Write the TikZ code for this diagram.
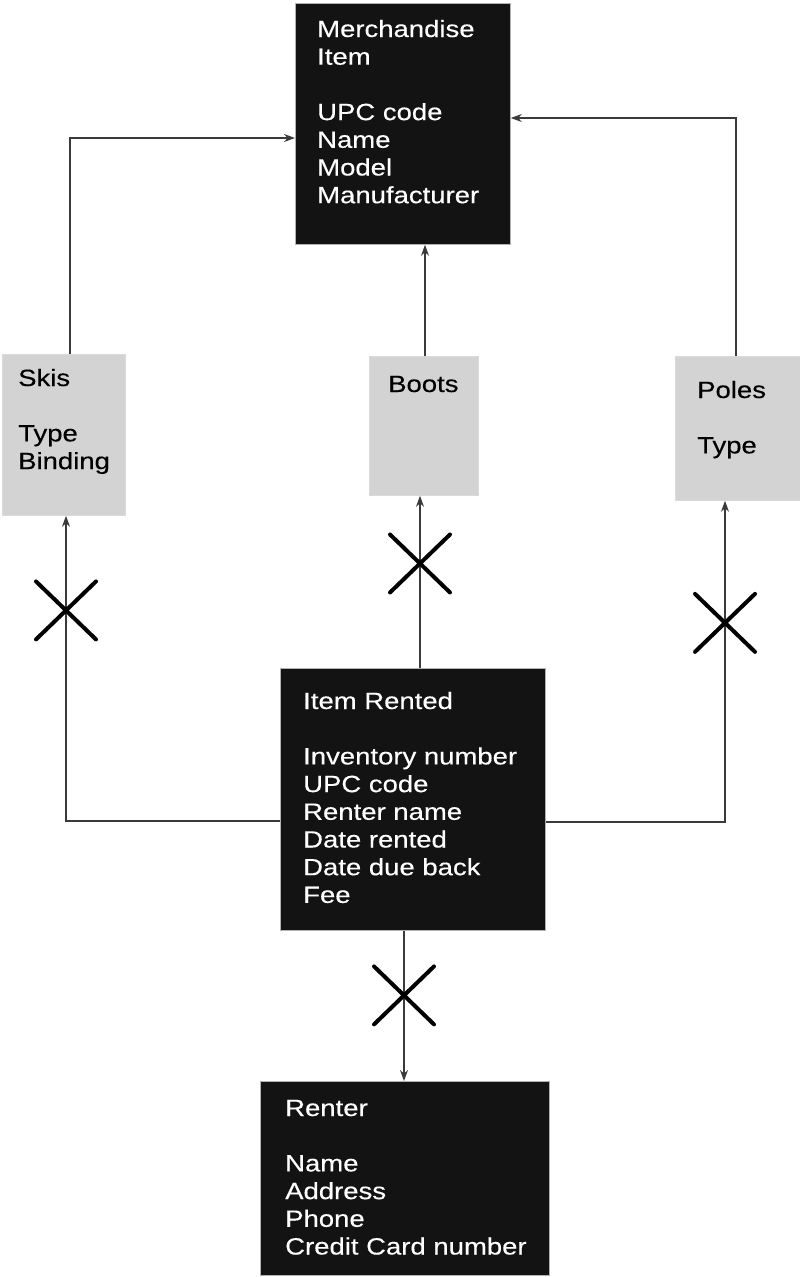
\documentclass[tikz,border=0pt]{standalone}
\usepackage{fontspec}
\setmainfont{Liberation Sans}[FakeStretch=1.17,FakeBold=0.3]
\usetikzlibrary{arrows.meta,shapes.misc}
\definecolor{boxblack}{HTML}{131313}
\definecolor{boxgray}{HTML}{D3D3D3}
\definecolor{lineg}{HTML}{3A3A3A}
\newcommand{\lines}[1]{\parbox[t]{300pt}{\raggedright #1}}
\begin{document}
\begin{tikzpicture}[x=1pt,y=-1pt,
  blackbox/.style={fill=boxblack, draw=gray!60, line width=0.8pt, inner sep=0pt, anchor=north west},
  graybox/.style={fill=boxgray, draw=boxgray!85!white, line width=0.8pt, inner sep=0pt, anchor=north west},
  txt/.style={anchor=base west, inner sep=0pt, font=\fontsize{23.5}{27.7}\selectfont},
  wtxt/.style={txt, text=white},
  conn/.style={draw=lineg, line width=1.4pt, -{Stealth[length=11pt,width=8pt]}},
  xmark/.style={cross out, draw=black, line width=4pt, line cap=round, minimum width=56, minimum height=54, inner sep=0pt}]
\useasboundingbox (0,0) rectangle (800,1277);
% boxes
\node[blackbox, minimum width=215, minimum height=241] (merch) at (295,3) {};
\node[wtxt] (merchT) at (317,37) {\lines{Merchandise\\Item\\\mbox{}\\UPC code\\Name\\Model\\Manufacturer}};
\node[graybox, minimum width=123, minimum height=161] (skis) at (2,354) {};
\node[txt] (skisT) at (18,386) {\lines{Skis\\\mbox{}\\Type\\Binding}};
\node[graybox, minimum width=109, minimum height=139] (boots) at (369,356) {};
\node[txt] (bootsT) at (388,392) {\lines{Boots}};
\node[graybox, minimum width=125, minimum height=144] (poles) at (675,356) {};
\node[txt] (polesT) at (697,398) {\lines{Poles\\\mbox{}\\Type}};
\node[blackbox, minimum width=265, minimum height=262] (item) at (280,668) {};
\node[wtxt] (itemT) at (303,709) {\lines{Item Rented\\\mbox{}\\Inventory number\\UPC code\\Renter name\\Date rented\\Date due back\\Fee}};
\node[blackbox, minimum width=289, minimum height=194] (renter) at (260,1081) {};
\node[wtxt] (renterT) at (285,1116) {\lines{Renter\\\mbox{}\\Name\\Address\\Phone\\Credit Card number}};
% connectors
\coordinate (k1) at (70,138);
\draw[conn] (skis.north -| k1) |- (merch.west |- k1);
\coordinate (k2) at (425,0);
\draw[conn] (boots.north -| k2) -- (merch.south -| k2);
\coordinate (k3) at (736,118);
\draw[conn] (poles.north -| k3) |- (merch.east |- k3);
\coordinate (k4) at (66,821);
\draw[conn] (item.west |- k4) -| (skis.south -| k4) node[xmark, pos=0.845] {};
\coordinate (k5) at (420,0);
\draw[conn] (item.north -| k5) -- (boots.south -| k5) node[xmark, pos=0.607] {};
\coordinate (k6) at (725,822);
\draw[conn] (item.east |- k6) -| (poles.south -| k6) node[xmark, pos=0.81] {};
\coordinate (k7) at (404,0);
\draw[conn] (item.south -| k7) -- (renter.north -| k7) node[xmark, pos=0.43] {};
\end{tikzpicture}
\end{document}
